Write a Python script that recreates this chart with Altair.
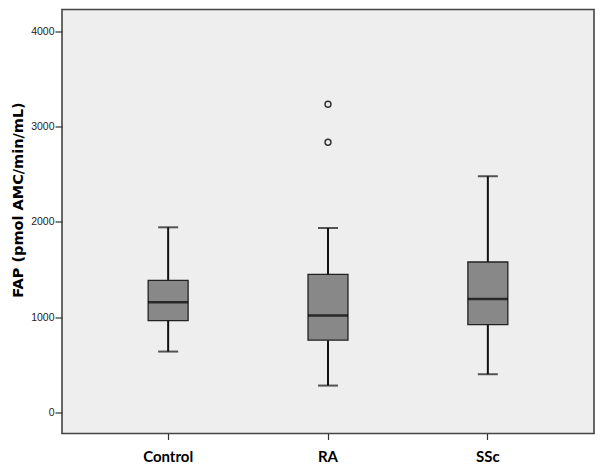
import altair as alt
import pandas as pd

groups = ["Control", "RA", "SSc"]
whisker_low = [640, 283, 402]
q1 = [965, 759, 923]
median = [1157, 1018, 1192]
q3 = [1388, 1451, 1580]
whisker_high = [1944, 1937, 2480]
outlier_group = ["RA", "RA"]
outlier_value = [3235, 2836]

box = pd.DataFrame({"group": groups, "lo": whisker_low, "q1": q1, "med": median,
                    "q3": q3, "hi": whisker_high})
out = pd.DataFrame({"group": outlier_group, "v": outlier_value})

xs = alt.X("group:N", sort=groups, title=None,
           scale=alt.Scale(paddingInner=0.75, paddingOuter=0.539),
           axis=alt.Axis(labelAngle=0, labelFont="Lato", labelFontWeight="bold",
                         labelFontSize=15, labelColor="#000", tickSize=6,
                         tickColor="#333", tickWidth=1.2, labelPadding=10, domain=False))
yscale = alt.Scale(domain=[-220, 4230], nice=False, zero=False)
yax = alt.Axis(values=[0, 1000, 2000, 3000, 4000], format="d", grid=False, domain=False,
               tickSize=7, tickColor="#333", tickWidth=1.2, labelFont="Liberation Sans",
               labelFontSize=10.5, labelColor="#222", labelPadding=1,
               title="FAP (pmol AMC/min/mL)", titleFont="DejaVu Sans",
               titleFontSize=14.5, titleFontWeight="bold", titleColor="#000",
               titleY=190, titleX=-40, titleBaseline="alphabetic", titleAngle=-90)

base = alt.Chart(box).encode(x=xs)

whisk_low = base.mark_rule(color="#111", strokeWidth=2).encode(
    y=alt.Y("lo:Q", scale=yscale, axis=yax), y2="q1:Q")
whisk_high = base.mark_rule(color="#111", strokeWidth=2).encode(
    y=alt.Y("q3:Q", scale=yscale), y2="hi:Q")
boxes = base.mark_bar(color="#888888", stroke="#222", strokeWidth=1.3).encode(
    y=alt.Y("q1:Q", scale=yscale), y2="q3:Q")
med = base.mark_tick(color="#000", size=40, thickness=2.5, orient="horizontal").encode(
    y=alt.Y("med:Q", scale=yscale))
cap_lo = base.mark_tick(color="#111", size=20, thickness=2, orient="horizontal").encode(
    y=alt.Y("lo:Q", scale=yscale))
cap_hi = base.mark_tick(color="#111", size=20, thickness=2, orient="horizontal").encode(
    y=alt.Y("hi:Q", scale=yscale))
pts = alt.Chart(out).mark_point(shape="circle", filled=False, size=35, color="#333",
                                strokeWidth=1.5, opacity=1).encode(
    x=alt.X("group:N", sort=groups), y=alt.Y("v:Q", scale=yscale))

chart = alt.layer(whisk_low, whisk_high, boxes, med, cap_lo, cap_hi, pts).properties(
    width=532, height=424,
    autosize=alt.AutoSizeParams(type="none"),
    padding={"left": 54, "top": 1.5, "right": 2, "bottom": 32},
    background="white",
).configure_view(fill="#EEEEEE", stroke="#444", strokeWidth=1.6)

chart.save("out.html", embed_options={"renderer": "svg", "actions": False})
